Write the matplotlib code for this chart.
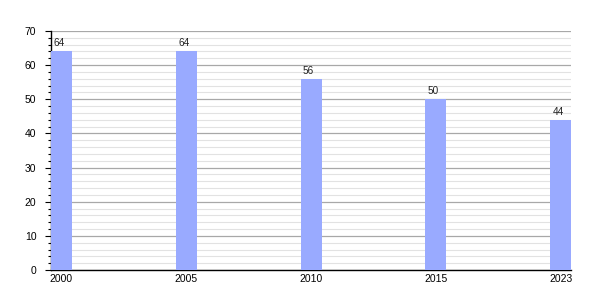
import matplotlib
matplotlib.use('Agg')
import matplotlib.pyplot as plt
from matplotlib.ticker import MultipleLocator

# Datos
years = ['2000', '2005', '2010', '2015', '2023']
values = [64, 64, 56, 50, 44]

plt.rcParams['font.family'] = ['Liberation Sans', 'DejaVu Sans']

fig = plt.figure(figsize=(6, 3), dpi=100)
ax = fig.add_axes([0.085, 0.1, 0.867, 0.797])

pos = list(range(len(years)))
bars = ax.bar(pos, values, width=0.168, color='#99aaff', zorder=3)

for p, v in zip(pos, values):
    ax.text(p - 0.02, v + 0.9, str(v), ha='center', va='bottom', fontsize=7.2, color='#222222')

ax.set_xlim(-0.084, len(years) - 1 + 0.084)
ax.set_ylim(0, 70)
ax.set_xticks(pos)
ax.set_xticklabels(years)
ax.yaxis.set_major_locator(MultipleLocator(10))
ax.yaxis.set_minor_locator(MultipleLocator(2))

ax.grid(axis='y', which='major', color='#a8a8a8', linewidth=0.9, zorder=0)
ax.grid(axis='y', which='minor', color='#e2e2e2', linewidth=0.8, zorder=0)

ax.spines['top'].set_visible(False)
ax.spines['right'].set_visible(False)
ax.spines['left'].set_linewidth(1.0)
ax.spines['bottom'].set_linewidth(1.0)

ax.tick_params(axis='x', length=0, labelsize=7.5, pad=3)
ax.tick_params(axis='y', which='major', length=4.5, width=0.8, labelsize=7.5, pad=6)
ax.tick_params(axis='y', which='minor', length=2, width=0.8)

fig.savefig('out.png', dpi=100)
